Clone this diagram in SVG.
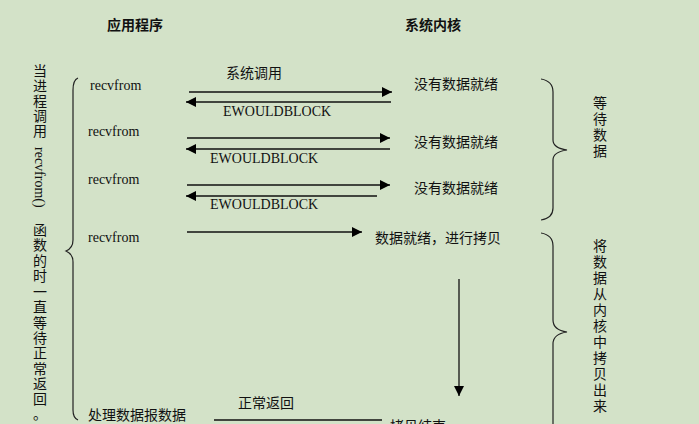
<svg xmlns="http://www.w3.org/2000/svg" width="699" height="424" viewBox="0 0 699 424">
<defs>
<marker id="ah" viewBox="0 0 10 10" refX="10" refY="5" markerWidth="10" markerHeight="10" markerUnits="userSpaceOnUse" orient="auto"><path d="M0,0 L10,5 L0,10 z" fill="#000"/></marker>
<style>
.cn{font-family:"Noto Sans CJK SC",sans-serif;font-size:14px;fill:#111}
.sf{font-family:"Liberation Serif",serif;font-size:14px;fill:#111}
.b{font-weight:bold}
.ln{stroke:#111;stroke-width:1.3;fill:none}
.br{stroke:#222;stroke-width:1.2;fill:none}
</style>
</defs>
<rect width="699" height="424" fill="#d3e2c8"/>
<g id="titles">
<text class="cn b" x="135" y="30" text-anchor="middle">应用程序</text>
<text class="cn b" x="433" y="30" text-anchor="middle">系统内核</text>
</g>
<g id="left-note" class="cn">
<text x="40" text-anchor="middle"><tspan x="40" y="76">当</tspan><tspan x="40" y="91">进</tspan><tspan x="40" y="106">程</tspan><tspan x="40" y="121">调</tspan><tspan x="40" y="136">用</tspan></text>
<text class="sf" transform="translate(35,147) rotate(90)">recvfrom()</text>
<text x="40" text-anchor="middle"><tspan x="40" y="235">函</tspan><tspan x="40" y="250">数</tspan><tspan x="40" y="266">的</tspan><tspan x="40" y="281">时</tspan><tspan x="40" y="297">一</tspan><tspan x="40" y="312">直</tspan><tspan x="40" y="328">等</tspan><tspan x="40" y="343">待</tspan><tspan x="40" y="358">正</tspan><tspan x="40" y="374">常</tspan><tspan x="40" y="389">返</tspan><tspan x="40" y="404">回</tspan><tspan x="40" y="419">。</tspan></text>
</g>
<g id="braces">
<path class="br" d="M78,78 Q73,80 73,90 L73,240 Q73,248 66,251 Q73,254 73,262 L73,410 Q73,418 78,420"/>
<path class="br" d="M541,79 Q553,81 553,92 L553,140 Q553,148 567,150 Q553,152 553,160 L553,208 Q553,218 541,220"/>
<path class="br" d="M541,233 Q553,235 553,246 L553,320 Q553,330 567,332 Q553,334 553,344 L553,424"/>
</g>
<g id="right-notes" class="cn" text-anchor="middle">
<text><tspan x="600" y="108">等</tspan><tspan x="600" y="124">待</tspan><tspan x="600" y="140">数</tspan><tspan x="600" y="156">据</tspan></text>
<text><tspan x="600" y="251">将</tspan><tspan x="600" y="267">数</tspan><tspan x="600" y="283">据</tspan><tspan x="600" y="299">从</tspan><tspan x="600" y="315">内</tspan><tspan x="600" y="331">核</tspan><tspan x="600" y="347">中</tspan><tspan x="600" y="363">拷</tspan><tspan x="600" y="379">贝</tspan><tspan x="600" y="395">出</tspan><tspan x="600" y="411">来</tspan></text>
</g>
<g id="labels">
<text class="sf" x="90" y="90">recvfrom</text>
<text class="sf" x="88" y="136">recvfrom</text>
<text class="sf" x="88" y="184">recvfrom</text>
<text class="sf" x="88" y="242">recvfrom</text>
<text class="cn" x="88" y="420">处理数据报数据</text>
<text class="cn" x="226" y="78">系统调用</text>
<text class="cn" x="238" y="408">正常返回</text>
<text class="sf" x="223" y="116">EWOULDBLOCK</text>
<text class="sf" x="210" y="163">EWOULDBLOCK</text>
<text class="sf" x="210" y="209">EWOULDBLOCK</text>
<text class="cn" x="414" y="89">没有数据就绪</text>
<text class="cn" x="414" y="147">没有数据就绪</text>
<text class="cn" x="414" y="193">没有数据就绪</text>
<text class="cn" x="375" y="243">数据就绪，进行拷贝</text>
<text class="cn" x="390" y="431">拷贝结束</text>
</g>
<g id="connectors">
<line class="ln" x1="189" y1="92" x2="392" y2="92" marker-end="url(#ah)"/>
<line class="ln" x1="391" y1="102" x2="186" y2="102" marker-end="url(#ah)"/>
<line class="ln" x1="187" y1="138" x2="390" y2="138" marker-end="url(#ah)"/>
<line class="ln" x1="390" y1="149" x2="186" y2="149" marker-end="url(#ah)"/>
<line class="ln" x1="187" y1="185" x2="390" y2="185" marker-end="url(#ah)"/>
<line class="ln" x1="377" y1="196" x2="186" y2="196" marker-end="url(#ah)"/>
<line class="ln" x1="187" y1="232" x2="362" y2="232" marker-end="url(#ah)"/>
<line class="ln" x1="459" y1="279" x2="459" y2="396" marker-end="url(#ah)"/>
<line class="ln" x1="214" y1="420" x2="382" y2="420"/>
</g>
</svg>
